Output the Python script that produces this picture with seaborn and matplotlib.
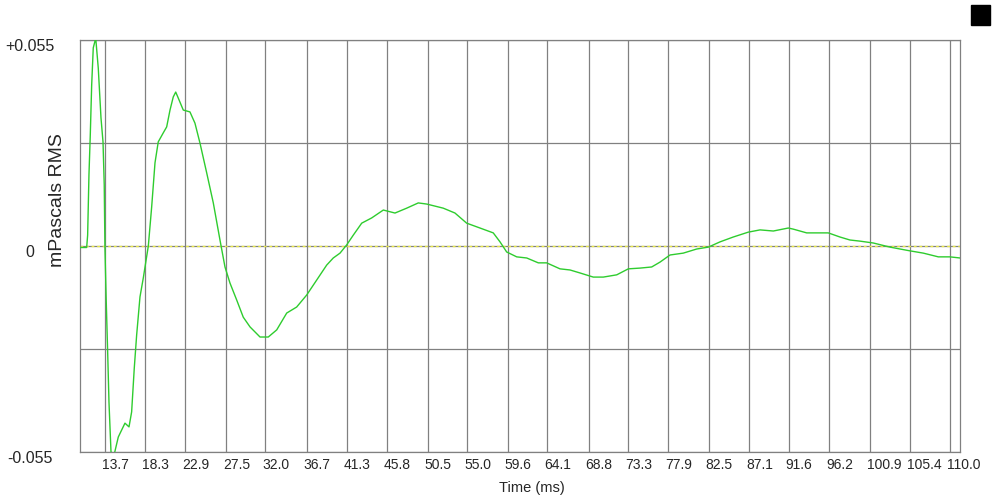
import pandas as pd
import seaborn as sns
import matplotlib.pyplot as plt
import matplotlib.transforms as mtrans
from matplotlib.patches import Rectangle

# tid (ms) og lydtrykk (mPascals RMS), lest av bildet
tid_ms = [10.89, 11.65, 11.76, 11.91, 12.06, 12.22, 12.40, 12.68, 12.97, 13.28,
          13.51, 13.65, 13.73, 13.88, 14.04, 14.19, 14.42, 14.79, 15.25, 16.01,
          16.47, 16.77, 17.07, 17.34, 17.72, 18.10, 18.67, 19.05, 19.43, 19.80,
          20.37, 20.76, 21.14, 21.51, 21.79, 22.08, 22.65, 23.41, 23.98, 24.55,
          25.32, 26.07, 26.83, 27.40, 27.97, 28.73, 29.48, 30.25, 31.39, 32.33,
          33.29, 34.43, 35.56, 36.70, 37.84, 38.98, 39.73, 40.50, 41.26, 42.01,
          42.97, 44.11, 45.43, 46.76, 48.09, 49.41, 50.37, 52.26, 53.59, 54.92,
          56.44, 57.95, 58.72, 59.48, 60.62, 61.76, 63.08, 64.03, 65.55, 66.69,
          67.83, 69.34, 70.48, 72.01, 73.33, 74.66, 75.99, 76.94, 78.08, 79.59,
          81.12, 82.44, 83.77, 85.28, 86.99, 88.33, 89.84, 91.55, 92.12, 93.64,
          96.10, 97.43, 98.57, 99.71, 101.23, 103.13, 105.41, 106.92, 108.63, 109.96,
          111.1]
trykk = [-0.0004, -0.0004, 0.0029, 0.0190, 0.0296, 0.0430, 0.0529, 0.0555, 0.0475, 0.0342,
         0.0278, 0.0163, -0.0005, -0.0150, -0.0283, -0.0417, -0.0550, -0.0556, -0.0510, -0.0473,
         -0.0483, -0.0443, -0.0326, -0.0238, -0.0136, -0.0085, 0.0000, 0.0104, 0.0222, 0.0278,
         0.0302, 0.0318, 0.0363, 0.0398, 0.0411, 0.0395, 0.0363, 0.0358, 0.0328, 0.0275,
         0.0195, 0.0115, 0.0016, -0.0056, -0.0099, -0.0144, -0.0190, -0.0216, -0.0243, -0.0243,
         -0.0224, -0.0179, -0.0163, -0.0131, -0.0091, -0.0051, -0.0032, -0.0019, 0.0003, 0.0029,
         0.0061, 0.0075, 0.0096, 0.0088, 0.0101, 0.0115, 0.0112, 0.0101, 0.0088, 0.0061,
         0.0048, 0.0035, 0.0011, -0.0016, -0.0029, -0.0032, -0.0045, -0.0045, -0.0061, -0.0064,
         -0.0072, -0.0083, -0.0083, -0.0077, -0.0061, -0.0059, -0.0056, -0.0043, -0.0024, -0.0019,
         -0.0008, -0.0003, 0.0011, 0.0024, 0.0037, 0.0043, 0.0040, 0.0048, 0.0045, 0.0035,
         0.0035, 0.0024, 0.0016, 0.0013, 0.0008, -0.0003, -0.0013, -0.0019, -0.0029, -0.0029,
         -0.0032]

x_ticks = [13.7, 18.3, 22.9, 27.5, 32.0, 36.7, 41.3, 45.8, 50.5, 55.0, 59.6,
           64.1, 68.8, 73.3, 77.9, 82.5, 87.1, 91.6, 96.2, 100.9, 105.4, 110.0]
x_labels = ['13.7', '18.3', '22.9', '27.5', '32.0', '36.7', '41.3', '45.8', '50.5', '55.0', '59.6',
            '64.1', '68.8', '73.3', '77.9', '82.5', '87.1', '91.6', '96.2', '100.9', '105.4', '110.0']
y_ticks = [-0.055, -0.0275, 0, 0.0275, 0.055]
y_labels = ['-0.055', '', '0', '', '+0.055']

df = pd.DataFrame({'tid': tid_ms, 'trykk': trykk})

sns.set_style('white')
plt.rcParams['font.family'] = ['Liberation Sans', 'DejaVu Sans']

fig = plt.figure(figsize=(10, 5), dpi=100)
ax = fig.add_axes([0.08, 0.096, 0.88, 0.824])

grå = '#808080'
ax.axhline(0, color='#e8e84a', linewidth=1, dashes=(2, 2), zorder=1)
sns.lineplot(data=df, x='tid', y='trykk', ax=ax, color='#2ecc2e', linewidth=1.0, zorder=3)

ax.set_xlim(10.89, 111.1)
ax.set_ylim(-0.055, 0.055)
ax.set_xticks(x_ticks)
ax.set_xticklabels(x_labels, ha='left', fontsize=10)
ax.set_yticks(y_ticks)
ax.set_yticklabels(y_labels, ha='center', fontsize=11.5)
ax.tick_params(axis='x', length=0, pad=4)
ax.tick_params(axis='y', length=0, pad=36)

# små forskyvninger av etikettene som i originalen
for lab in ax.get_xticklabels():
    lab.set_transform(lab.get_transform() + mtrans.ScaledTranslation(-3 / 100, 0, fig.dpi_scale_trans))
for lab in ax.get_yticklabels():
    lab.set_transform(lab.get_transform() + mtrans.ScaledTranslation(0, -5 / 100, fig.dpi_scale_trans))

ax.grid(True, color=grå, linewidth=0.9)
for s in ax.spines.values():
    s.set_color(grå)
    s.set_linewidth(0.9)

ax.set(xlabel='', ylabel='')
fig.text(0.532, 0.024, 'Time (ms)', ha='center', va='center', fontsize=10.5)
fig.text(0.057, 0.60, 'mPascals RMS', ha='center', va='center', rotation=90, fontsize=14)

# lite ikon oppe til høyre
fig.patches.append(Rectangle((0.971, 0.95), 0.019, 0.04, transform=fig.transFigure,
                             color='black', figure=fig))

fig.savefig('out.png', dpi=100)
